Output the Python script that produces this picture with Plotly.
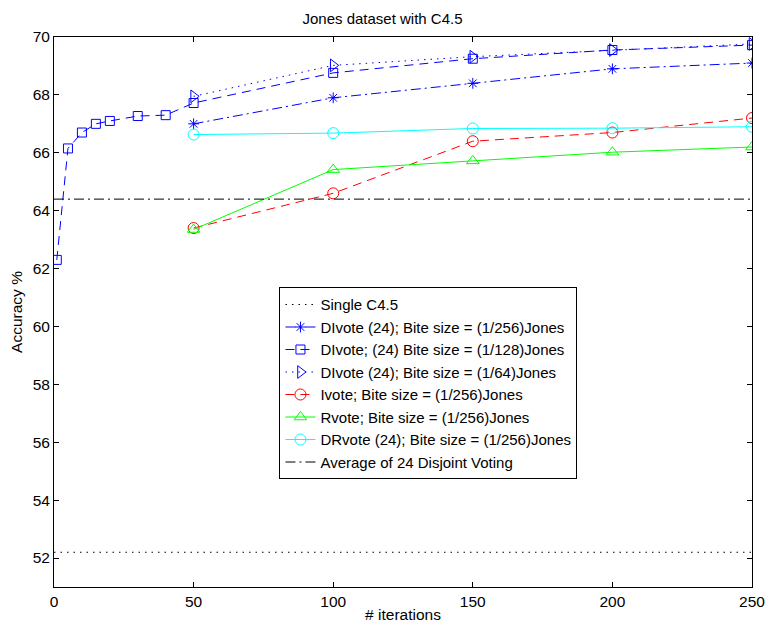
import plotly.graph_objects as go

# iteration counts
iters_128 = [1, 5, 10, 15, 20, 30, 40, 50, 100, 150, 200, 250]
iters = [50, 100, 150, 200, 250]
x_span = [0, 250]

# accuracy values (%)
single_c45 = [52.2, 52.2]
divote_256 = [67.0, 67.9, 68.4, 68.9, 69.1]
divote_128 = [62.3, 66.15, 66.7, 67.0, 67.1, 67.27, 67.3, 67.72, 68.76, 69.25, 69.55, 69.72]
divote_64 = [67.95, 69.02, 69.32, 69.55, 69.76]
ivote_256 = [63.4, 64.6, 66.4, 66.7, 67.2]
rvote_256 = [63.35, 65.42, 65.72, 66.02, 66.2]
drvote_256 = [66.63, 66.68, 66.84, 66.85, 66.9]
avg_disjoint = [64.4, 64.4]

BLUE = "rgb(0,0,255)"
RED = "rgb(255,0,0)"
GREEN = "rgb(0,255,0)"
CYAN = "rgb(0,255,255)"

DOT = "1.5px,5px"
DASH = "9px,6px"
DASHDOT = "10px,4px,2px,4px"

fig = go.Figure()

def add(x, y, name, color, dash, symbol=None, msize=10):
    mode = "lines+markers" if symbol else "lines"
    fig.add_trace(go.Scatter(
        x=x, y=y, name=name, mode=mode,
        line=dict(color=color, width=1, dash=dash),
        marker=dict(symbol=symbol, size=msize, color=color,
                    line=dict(color=color, width=1)) if symbol else None,
    ))

add(x_span, single_c45, "Single C4.5", "black", DOT)
add(iters, divote_256, "DIvote (24); Bite size = (1/256)Jones", BLUE, DASHDOT, "asterisk-open", 9)
add(iters_128, divote_128, "DIvote; (24) Bite size = (1/128)Jones", BLUE, DASH, "square-open", 9)
add(iters, divote_64, "DIvote (24); Bite size = (1/64)Jones", BLUE, DOT, "triangle-right-open", 11)
add(iters, ivote_256, "Ivote; Bite size = (1/256)Jones", RED, DASH, "circle-open", 11)
add(iters, rvote_256, "Rvote; Bite size = (1/256)Jones", GREEN, "solid", "triangle-up-open", 11)
add(iters, drvote_256, "DRvote (24); Bite size = (1/256)Jones", CYAN, "solid", "circle-open", 11)
add(x_span, avg_disjoint, "Average of 24 Disjoint Voting", "black", DASHDOT)

FONT = "Liberation Sans, Arial, sans-serif"

axis_common = dict(
    showline=True, linecolor="black", linewidth=1, mirror="ticks",
    ticks="inside", ticklen=5, tickcolor="black", tickwidth=1,
    showgrid=False, zeroline=False, ticklabeloverflow="allow", automargin=False,
    tickfont=dict(family=FONT, size=15.5, color="black"),
)

fig.update_layout(
    width=765, height=626,
    margin=dict(l=54, r=13, t=37, b=39),
    paper_bgcolor="white", plot_bgcolor="white",
    font=dict(family=FONT, size=15, color="black"),
    title=dict(text="Jones dataset with C4.5", x=0.5, xanchor="center",
               y=0.97, yanchor="middle", font=dict(size=15)),
    xaxis=dict(range=[0, 250], tickvals=[0, 50, 100, 150, 200, 250],
               title=dict(text="# iterations", standoff=0, font=dict(size=15.5)),
               **axis_common),
    yaxis=dict(range=[51, 70], tickvals=list(range(52, 71, 2)),
               title=dict(text="Accuracy %", standoff=6, font=dict(size=15.5)),
               **axis_common),
    legend=dict(x=0.323, y=0.545, xanchor="left", yanchor="top",
                bordercolor="black", borderwidth=1, bgcolor="white",
                font=dict(size=15), tracegroupgap=0, itemwidth=30),
    showlegend=True,
)

fig.write_html("out.html")
